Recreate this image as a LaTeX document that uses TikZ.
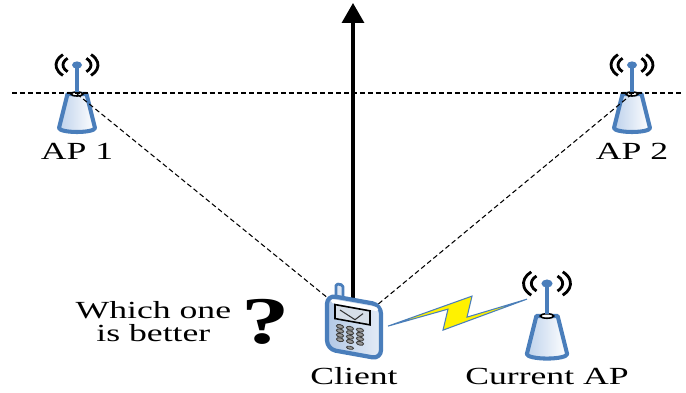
\documentclass[tikz,border=0pt]{standalone}
\usepackage{fontspec}
\setmainfont{Liberation Serif}[FakeStretch=1.45]
\usetikzlibrary{arrows.meta,positioning,backgrounds}

\definecolor{apblue}{RGB}{74,126,187}
\definecolor{aplight}{RGB}{190,210,236}
\definecolor{phonelight}{RGB}{178,200,230}
\definecolor{screengray}{RGB}{214,222,232}

\begin{document}
\begin{tikzpicture}
[x=0.02cm,y=-0.02cm,
lbl/.style={inner sep=0pt,font=\fontsize{14}{13}\selectfont,align=center},
dashline/.style={black,line width=0.6pt,dash pattern=on 2.8pt off 1.7pt},
blueline/.style={draw=apblue,line width=2.3pt,line join=round},
wave/.style={black,line width=1.6pt},
key/.style={draw=black!75,fill=black!40,line width=0.5pt},
bolt/.style={draw=apblue,fill=yellow,line width=0.6pt,line join=miter},
ap/.pic={
  \draw [blueline,left color=aplight,right color=white]
    (-9.5,0) -- (-18,34) arc [start angle=180,end angle=0,x radius=18,y radius=4] -- (9.5,0) -- cycle;
  \draw [black,line width=0.9pt,fill=white] (0,0) ellipse [x radius=6,y radius=2];
  \draw [apblue,line width=1.9pt] (0,-2) -- (0,-27);
  \fill [apblue] (0,-29) ellipse [x radius=5,y radius=3.6];
  \foreach \a/\rx/\ry in {180/14/9,180/21/14,0/14/9,0/21/14}
    \draw [wave] (0,-29) ++(\a+48:{\rx} and {\ry})
      arc [start angle=\a+48,end angle=\a-48,x radius=\rx,y radius=\ry];
  \coordinate (-top) at (0,0);
  \coordinate (-base) at (0,38);
},
phone/.pic={
  \begin{scope}[yslant=-0.18]
  \draw [blueline,line width=1.6pt,fill=phonelight!45!white,rounded corners=1pt] (-18,-40) rectangle (-11,-24);
  \draw [blueline,line width=2.4pt,left color=phonelight,right color=phonelight!35!white,rounded corners=5pt]
    (-27,-27) rectangle (27,27);
  \fill [white,rounded corners=1pt] (-23,-24) rectangle (24,-20);
  \draw [black,line width=0.9pt,fill=screengray] (-19,-19) rectangle (16,-5);
  \draw [black!80,line width=0.6pt] (-14,-14.5) -- (1,-7.5) -- (9,-15);
  \foreach \c in {0,1,2}
    \foreach \r in {0,...,3}
      \draw [key] (-14+10*\c,2+4.4*\r) ellipse [x radius=3.6,y radius=1.9];
  \draw [key] (-4,21.5) ellipse [x radius=3.5,y radius=1.5];
  \coordinate (-top) at (-1,-22);
  \coordinate (-nw) at (-21,-21);
  \coordinate (-ne) at (18,-21);
  \coordinate (-bolt) at (34,-7);
  \coordinate (-base) at (0,30);
  \end{scope}
}]
\useasboundingbox (0,0) rectangle (686,392);

\pic (client) at (354,327) {phone};

\begin{scope}[on background layer]
\pic (ap1) at (77,94) {ap};
\pic (ap2) at (632,94) {ap};
\pic [scale=1.12] (cur) at (547,316) {ap};
\coordinate (west) at (12,93);
\coordinate (east) at (684,93);
\coordinate (sky) at (353,3);
\draw [dashline] (west) -- (east);
\draw [dashline] (ap1-top) -- (client-nw);
\draw [dashline] (ap2-top) -- (client-ne);
\draw [line width=1.9pt,-{Triangle[width=4.4mm,length=4mm]}] (client-top) -- (sky);
\end{scope}

\draw [bolt] (client-bolt) -- ++(84,-30) -- ++(-5,21) -- ++(60,-18) -- ++(-84,31) -- ++(5,-21) -- cycle;

\node [lbl] (t1) [below=2.2mm of ap1-base] {AP 1};
\node [lbl] (t2) [below=2.2mm of ap2-base] {AP 2};
\node [lbl] (t3) [below=2mm of client-base] {Client};
\node [lbl] (t4) [below=1.8mm of cur-base] {Current AP};
\node [inner sep=0pt,font=\fontsize{38}{38}\selectfont\bfseries] (q) at (266,322) {?};
\node [lbl] (which) [left=2mm of q] {Which one\\is better};
\end{tikzpicture}
\end{document}
